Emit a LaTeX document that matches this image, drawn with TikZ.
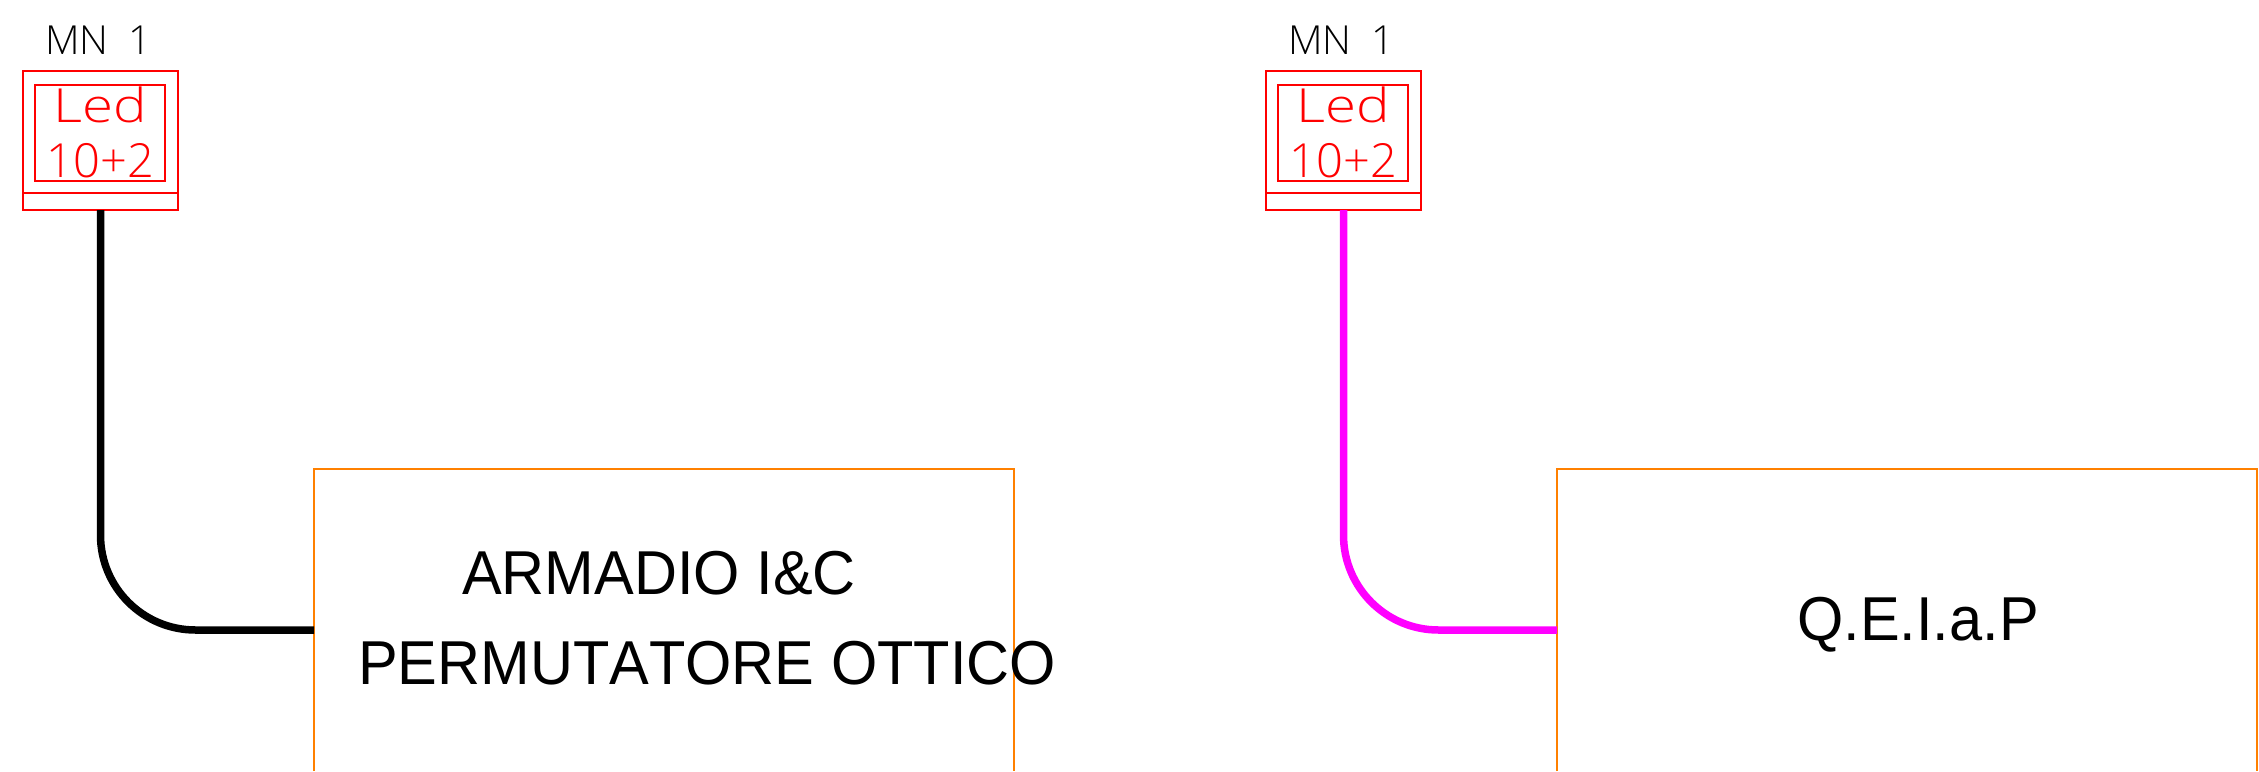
\documentclass[tikz,border=0pt]{standalone}
\usepackage{fontspec}
\setmainfont[FakeStretch=0.96,Kerning=Off]{Liberation Sans}
\newfontfamily\thinfont{Open Sans Light}
\newfontfamily\thinwide[FakeStretch=1.2]{Open Sans Light}
\tikzset{
  panelbox/.style={draw=red,line width=1.7pt,minimum width=155pt,minimum height=139pt,inner sep=0pt,outer sep=0pt},
  innerbox/.style={draw=red,line width=1.7pt,minimum width=130pt,minimum height=96pt,inner sep=0pt,outer sep=0pt},
  cabinet/.style={draw={rgb,255:red,255;green,128;blue,0},line width=1.8pt},
  wire/.style={line width=7.5pt,rounded corners=95pt},
  ledtext/.style={text=red,inner sep=0pt,anchor=base,font=\thinwide\fontsize{47}{47}\selectfont},
  numtext/.style={text=red,inner sep=0pt,anchor=base,font=\thinfont\fontsize{47}{47}\selectfont},
  mntext/.style={text=black,inner sep=0pt,anchor=base west,font=\thinfont\fontsize{40}{40}\selectfont},
  bigtext/.style={text=black,inner sep=0pt,anchor=base west,font=\fontsize{62}{62}\selectfont}
}
\definecolor{wiremag}{RGB}{255,0,255}
\begin{document}
\begin{tikzpicture}[x=1pt,y=-1pt]
\useasboundingbox (0,0) rectangle (2259,771);
\foreach \s/\dx in {a/0,b/1243}{
  \begin{scope}[xshift=\dx pt]
  \node[panelbox] (\s box) at (100.5,140.5) {};
  \node[innerbox] (\s inner) at (100,133) {};
  \coordinate (\s sepL) at (23,193);
  \coordinate (\s sepR) at (178,193);
  \draw[red,line width=1.7pt] (\s sepL) -- (\s sepR);
  \node[ledtext] (\s led) at (100,122) {Led};
  \node[numtext] (\s num) at (100.5,177) {10+2};
  \node[mntext] (\s mn) at (45,54) {MN\hspace{20pt}1};
  \coordinate (\s BL) at (314,771);
  \coordinate (\s TL) at (314,469);
  \coordinate (\s TR) at (1014,469);
  \coordinate (\s BR) at (1014,771);
  \coordinate (\s in) at (314,630);
  \draw[cabinet] (\s BL) -- (\s TL) -- (\s TR) -- (\s BR);
  \end{scope}
}
\draw[wire,black] (abox.south) |- (ain);
\draw[wire,wiremag] (bbox.south) |- (bin);
\node[bigtext] (t1) at (462,594) {ARMADIO I\&C};
\node[bigtext] (t2) at (358,684) {PERMUTATORE OTTICO};
\node[bigtext] (t3) at (1797,640) {Q.E.I.a.P};
\end{tikzpicture}
\end{document}
